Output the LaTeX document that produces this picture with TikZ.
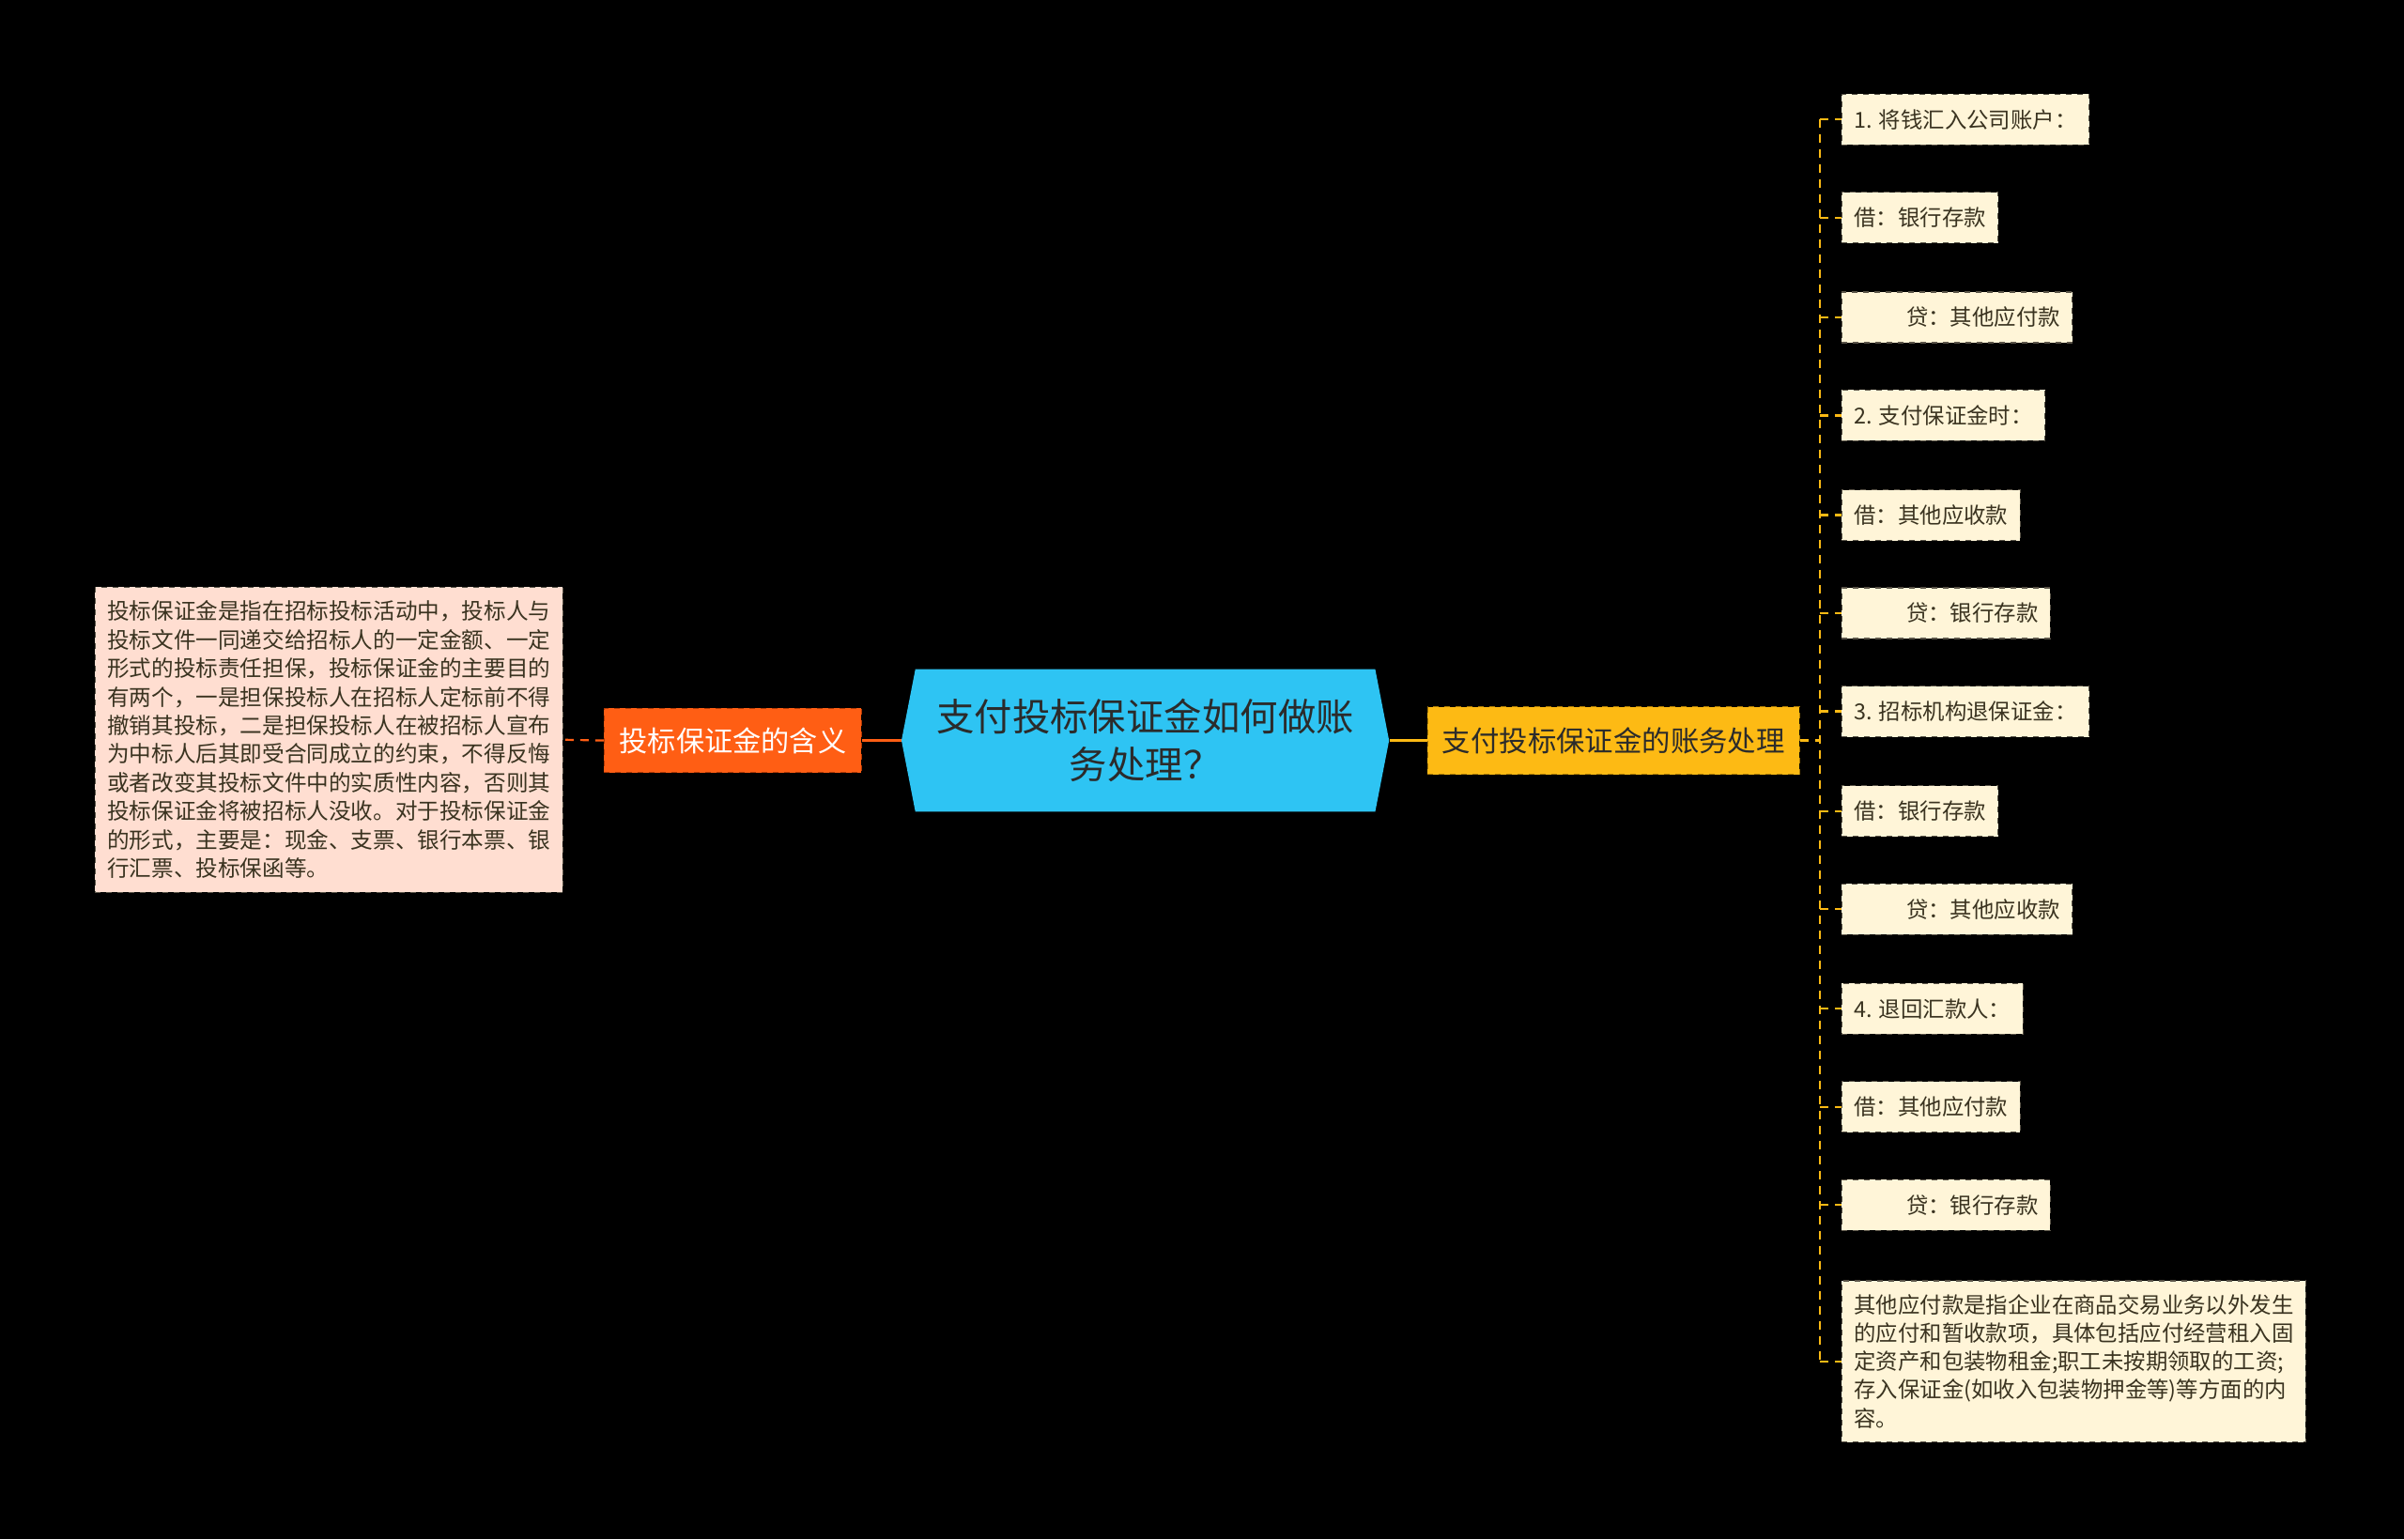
\documentclass[tikz,border=0pt]{standalone}
\usepackage{fontspec}
\newfontfamily\cjk{Noto Sans CJK SC}
\usetikzlibrary{shapes.symbols}
\definecolor{rootblue}{HTML}{2EC4F3}
\definecolor{rootink}{HTML}{2B2B2B}
\definecolor{hanorange}{HTML}{FF5E14}
\definecolor{hanedge}{HTML}{B33A05}
\definecolor{hanpeach}{HTML}{FFDED1}
\definecolor{zhangyellow}{HTML}{FDBA14}
\definecolor{zhangedge}{HTML}{A97A05}
\definecolor{leafcream}{HTML}{FFF5D8}
\definecolor{leafedge}{HTML}{5A5448}
\definecolor{leafink}{HTML}{3A3320}

\begin{document}
\begin{tikzpicture}[x=0.8163pt,y=-0.8163pt,
  every node/.style={font=\cjk},
  root/.style={shape=signal,signal to=west and east,signal pointer angle=158,fill=rootblue,text=rootink,
    minimum width=259.6pt,minimum height=75.9pt,inner xsep=1pt,inner ysep=0pt,align=center,
    font=\cjk\fontsize{20.2}{25.3}\selectfont},
  han/.style={fill=hanorange,draw=hanedge,dashed,line width=.6pt,text=white,minimum width=137pt,
    minimum height=34.3pt,inner sep=0pt,font=\cjk\fontsize{15.1}{18}\selectfont},
  hantext/.style={fill=hanpeach,draw=leafedge,dashed,line width=.6pt,text=leafink,align=left,
    inner xsep=6.5pt,inner ysep=7.3pt,font=\cjk\fontsize{11.8}{15.2}\selectfont},
  zhang/.style={fill=zhangyellow,draw=zhangedge,dashed,line width=.6pt,text=rootink,minimum width=198pt,
    minimum height=36pt,inner sep=0pt,font=\cjk\fontsize{15.2}{18}\selectfont},
  leaf/.style={fill=leafcream,draw=leafedge,dashed,line width=.6pt,text=leafink,anchor=west,align=left,
    minimum height=27pt,inner xsep=6.5pt,inner ysep=0pt,font=\cjk\fontsize{11.7}{15.1}\selectfont},
  hanline/.style={draw=hanorange,line width=1.1pt},
  zhangline/.style={draw=zhangyellow,line width=1.1pt},
  dashes/.style={dash pattern=on 4.5pt off 3.5pt}]
\useasboundingbox (0,0) rectangle (1568,1004);
\fill[black] (0,0) rectangle (1568,1004);
% centre and first level
\node[root] (root) at (747,483) {支付投标保证金如何做账\\务处理？};
\node[han] (han) at (478,483) {投标保证金的含义};
\node[hantext] (hanText) at (214.5,482.5) {投标保证金是指在招标投标活动中，投标人与\\投标文件一同递交给招标人的一定金额、一定\\形式的投标责任担保，投标保证金的主要目的\\有两个，一是担保投标人在招标人定标前不得\\撤销其投标，二是担保投标人在被招标人宣布\\为中标人后其即受合同成立的约束，不得反悔\\或者改变其投标文件中的实质性内容，否则其\\投标保证金将被招标人没收。对于投标保证金\\的形式，主要是：现金、支票、银行本票、银\\行汇票、投标保函等。};
\node[zhang] (zhang) at (1052.5,483) {支付投标保证金的账务处理};
% entries
\node[leaf] (e1) at (1201,78) {1. 将钱汇入公司账户：};
\node[leaf] (e2) at (1201,142) {借：银行存款};
\node[leaf] (e3) at (1201,207) {\hspace*{27.8pt}贷：其他应付款};
\node[leaf] (e4) at (1201,271) {2. 支付保证金时：};
\node[leaf] (e5) at (1201,336) {借：其他应收款};
\node[leaf] (e6) at (1201,400) {\hspace*{27.8pt}贷：银行存款};
\node[leaf] (e7) at (1201,464) {3. 招标机构退保证金：};
\node[leaf] (e8) at (1201,529) {借：银行存款};
\node[leaf] (e9) at (1201,593) {\hspace*{27.8pt}贷：其他应收款};
\node[leaf] (e10) at (1201,658) {4. 退回汇款人：};
\node[leaf] (e11) at (1201,722) {借：其他应付款};
\node[leaf] (e12) at (1201,786) {\hspace*{27.8pt}贷：银行存款};
\node[leaf,inner ysep=7.3pt] (e13) at (1201,888) {其他应付款是指企业在商品交易业务以外发生\\的应付和暂收款项，具体包括应付经营租入固\\定资产和包装物租金;职工未按期领取的工资;\\存入保证金(如收入包装物押金等)等方面的内\\容。};
% connectors
\draw[hanline] (root.west) -- (han.east);
\draw[hanline,dashes] (han.west) -- (hanText.east);
\draw[zhangline] (root.east) -- (zhang.west);
\coordinate (spine) at (1187,483);
\draw[zhangline,dashes] (zhang.east) -- (spine);
\draw[zhangline,dashes] (spine |- e1.west) -- (spine |- e13.west);
\draw[zhangline,dashes] (spine |- e1.west) -- (e1.west);
\draw[zhangline,dashes] (spine |- e2.west) -- (e2.west);
\draw[zhangline,dashes] (spine |- e3.west) -- (e3.west);
\draw[zhangline,dashes] (spine |- e4.west) -- (e4.west);
\draw[zhangline,dashes] (spine |- e5.west) -- (e5.west);
\draw[zhangline,dashes] (spine |- e6.west) -- (e6.west);
\draw[zhangline,dashes] (spine |- e7.west) -- (e7.west);
\draw[zhangline,dashes] (spine |- e8.west) -- (e8.west);
\draw[zhangline,dashes] (spine |- e9.west) -- (e9.west);
\draw[zhangline,dashes] (spine |- e10.west) -- (e10.west);
\draw[zhangline,dashes] (spine |- e11.west) -- (e11.west);
\draw[zhangline,dashes] (spine |- e12.west) -- (e12.west);
\draw[zhangline,dashes] (spine |- e13.west) -- (e13.west);
\end{tikzpicture}
\end{document}
